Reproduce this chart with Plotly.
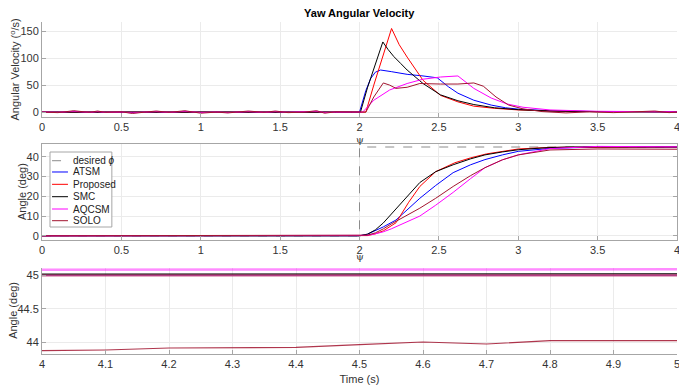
import plotly.graph_objects as go
from plotly.subplots import make_subplots

# ---------------- data ----------------
series_names = ["ATSM", "Proposed", "SMC", "AQCSM", "SOLO"]
series_colors = ["#0000FF", "#FF0000", "#000000", "#FF00FF", "#A2142F"]
legend_labels = ["desired <i>\u03d5</i>"] + series_names
legend_colors = ["#8c8c8c"] + series_colors

# Panel 1: yaw angular velocity (deg/s)
t_noise = [0, 0.1, 0.2, 0.3, 0.35, 0.4, 0.5, 0.57, 0.65, 0.72, 0.8, 0.9, 1.0,
           1.1, 1.17, 1.3, 1.4, 1.47, 1.55, 1.65, 1.73, 1.78, 1.85, 1.95]
noise_solo = [0, -1, 2.5, -0.5, 2, -0.5, 0.5, -2.5, 0, 2, -0.5, 2.5, -2,
              0, -1.5, 2, -0.5, 2, -1, 0, 2.5, -2, 0.5, 0]
noise_aqcsm = [0, -0.5, 1.5, -0.5, 1, -0.5, 0, -1.5, 0, 1, -0.5, 1.5, -1,
               0, -1, 1, -0.5, 1, -0.5, 0, 1.5, -1, 0, 0]
noise_flat = [0, 0, 0.5, 0, 0.5, 0, 0, -0.5, 0, 0.5, 0, 0.5, -0.5,
              0, -0.5, 0.5, 0, 0.5, 0, 0, 0.5, -0.5, 0, 0]

vel_t_atsm = [2.0, 2.04, 2.07, 2.1, 2.133, 2.2, 2.3, 2.4, 2.49, 2.56, 2.62, 2.72, 2.83, 2.92, 3.0, 3.2, 3.5, 4.0]
vel_atsm = [0, 40, 62, 74, 78, 75, 70, 67, 63.5, 47, 35, 22, 13, 8, 5.5, 2.5, 1, 0.3]

vel_t_prop = [2.0, 2.04, 2.09, 2.15, 2.202, 2.25, 2.3, 2.4, 2.51, 2.62, 2.72, 2.85, 3.0, 3.2, 3.5, 4.0]
vel_prop = [0, 0, 50, 105, 155, 125, 102, 59, 31, 19, 11, 7, 4, 2, 0.8, 0.3]

vel_t_smc = [2.0, 2.006, 2.05, 2.1, 2.147, 2.18, 2.216, 2.26, 2.3, 2.4, 2.51, 2.62, 2.72, 2.85, 3.0, 3.2, 3.5, 4.0]
vel_smc = [0, 0, 45, 90, 130, 116, 103, 90, 78, 53, 32, 21, 14, 8, 4.5, 2, 0.8, 0.3]

vel_t_aqcsm = [2.0, 2.02, 2.09, 2.19, 2.3, 2.4, 2.51, 2.62, 2.72, 2.83, 2.93, 3.03, 3.2, 3.5, 4.0]
vel_aqcsm = [0, 0, 22, 41, 53, 61, 65, 67, 44, 26, 15, 9, 4, 1.5, 0.5]

vel_t_solo = [2.0, 2.04, 2.09, 2.15, 2.19, 2.23, 2.3, 2.38, 2.51, 2.62, 2.72, 2.78, 2.86, 2.94, 3.03,
              3.15, 3.3, 3.45, 3.6, 3.75, 3.86, 3.95, 4.0]
vel_solo = [0, 0, 28, 54, 50, 44, 46, 53, 52, 52, 54, 48, 28, 13, 6,
            1, -1.5, 0.5, -1, 0.5, 2, -1, 0]

# Panel 2: yaw angle (deg)
ang_t_des = [0, 2.0, 2.0, 4.0]
ang_des = [0, 0, 45, 45]

ang_t_atsm = [0, 2.0, 2.05, 2.1, 2.15, 2.23, 2.3, 2.38, 2.48, 2.59, 2.7, 2.79, 2.9, 3.0, 3.2, 3.5, 4.0]
ang_atsm = [0, 0, 0.8, 2.5, 4.5, 8, 13, 19, 25.5, 32, 36, 38.6, 41, 42.8, 44.3, 45, 45.0]

ang_t_prop = [0, 2.0, 2.05, 2.1, 2.15, 2.23, 2.31, 2.38, 2.48, 2.6, 2.7, 2.8, 3.0, 3.2, 3.5, 4.0]
ang_prop = [0, 0, 0.1, 1, 2.5, 6.6, 17, 25, 32.5, 37, 39.5, 41.5, 44, 44.8, 45, 45.0]

ang_t_smc = [0, 2.0, 2.05, 2.1, 2.15, 2.2, 2.27, 2.38, 2.48, 2.59, 2.7, 2.79, 2.9, 3.0, 3.15, 3.3, 3.5, 4.0]
ang_smc = [0, 0, 0.8, 3, 6.5, 11, 17, 27, 32.5, 36, 39, 41, 42.5, 43.6, 44.5, 45.0, 45.1, 45.02]

ang_t_aqcsm = [0, 2.0, 2.05, 2.1, 2.15, 2.2, 2.3, 2.38, 2.48, 2.59, 2.7, 2.79, 2.9, 3.0, 3.2, 3.5, 4.0]
ang_aqcsm = [0, 0, 0.2, 1, 2, 3.5, 7, 10, 15.5, 22, 29, 34.5, 38.5, 41, 44.2, 45.3, 45.085]

ang_t_solo = [0, 2.0, 2.05, 2.1, 2.15, 2.2, 2.3, 2.38, 2.48, 2.59, 2.7, 2.79, 2.9, 3.0, 3.2, 3.5, 4.0]
ang_solo = [0, 0, 0.3, 1.5, 3.5, 6, 10.5, 14, 19, 25, 30.5, 34.5, 38.5, 41, 43.5, 44, 43.87]

# Panel 3: zoomed yaw angle (deg), t = 4..5 s
zoom_t = [4.0, 5.0]
zoom_atsm = [45.0, 45.0]
zoom_prop = [45.0, 45.0]
zoom_smc = [45.02, 45.025]
zoom_aqcsm = [45.085, 45.09]
zoom_t_solo = [4.0, 4.1, 4.2, 4.3, 4.4, 4.5, 4.6, 4.7, 4.8, 4.9, 5.0]
zoom_solo = [43.87, 43.88, 43.91, 43.91, 43.92, 43.96, 44.0, 43.97, 44.02, 44.02, 44.02]

x_ticks_12 = [0, 0.5, 1, 1.5, 2, 2.5, 3, 3.5, 4]
x_ticks_3 = [4, 4.1, 4.2, 4.3, 4.4, 4.5, 4.6, 4.7, 4.8, 4.9, 5]
y_ticks_1 = [0, 50, 100, 150]
y_ticks_2 = [0, 10, 20, 30, 40]
y_ticks_3 = [44, 44.5, 45]

# ---------------- figure ----------------
FONT = "Liberation Sans, Arial"
fig = make_subplots(rows=3, cols=1, shared_xaxes=False)

vel_data = [
    (t_noise + vel_t_atsm, noise_flat + vel_atsm),
    (t_noise + vel_t_prop, noise_flat + vel_prop),
    (t_noise + vel_t_smc, noise_flat + vel_smc),
    (t_noise + vel_t_aqcsm, noise_aqcsm + vel_aqcsm),
    (t_noise + vel_t_solo, noise_solo + vel_solo),
]
for (tx, vy), name, col in zip(vel_data, series_names, series_colors):
    fig.add_trace(go.Scatter(x=tx, y=vy, mode="lines", name=name,
                             line=dict(color=col, width=1)), row=1, col=1)

fig.add_trace(go.Scatter(x=ang_t_des, y=ang_des, mode="lines", name="desired \u03d5",
                         line=dict(color="#8c8c8c", width=1, dash="dash")), row=2, col=1)
ang_data = [(ang_t_atsm, ang_atsm), (ang_t_prop, ang_prop), (ang_t_smc, ang_smc),
            (ang_t_aqcsm, ang_aqcsm), (ang_t_solo, ang_solo)]
for (tx, vy), name, col in zip(ang_data, series_names, series_colors):
    fig.add_trace(go.Scatter(x=tx, y=vy, mode="lines", name=name,
                             line=dict(color=col, width=1)), row=2, col=1)

zoom_data = [(zoom_t, zoom_atsm, 0.5, 2), (zoom_t, zoom_prop, 0.45, 2.5), (zoom_t, zoom_smc, 0.9, 1),
             (zoom_t, zoom_aqcsm, 0.45, 2.5), (zoom_t_solo, zoom_solo, 0.85, 1.2)]
for (tx, vy, op, w), name, col in zip(zoom_data, series_names, series_colors):
    fig.add_trace(go.Scatter(x=tx, y=vy, mode="lines", name=name, opacity=op,
                             line=dict(color=col, width=w)), row=3, col=1)

axis_common = dict(showgrid=True, gridcolor="#ebebeb", gridwidth=1, zeroline=False,
                   showline=True, linecolor="#a6a6a6", linewidth=1, ticks="inside",
                   ticklen=4, tickcolor="#a6a6a6", automargin=False,
                   ticklabeloverflow="allow",
                   tickfont=dict(family=FONT, size=11, color="#333333"))
title_font = dict(family=FONT, size=11, color="#333333")

fig.update_layout(
    xaxis=dict(domain=[0, 1], range=[0, 4], tickvals=x_ticks_12, anchor="y", **axis_common),
    yaxis=dict(domain=[0.714, 1], range=[-9, 167], tickvals=y_ticks_1, anchor="x", **axis_common),
    xaxis2=dict(domain=[0, 1], range=[0, 4], tickvals=x_ticks_12, anchor="y2", mirror=True, **axis_common),
    yaxis2=dict(domain=[0.343, 0.633], range=[-2.2, 46.6], tickvals=y_ticks_2, anchor="x2", mirror="ticks",
                **axis_common),
    xaxis3=dict(domain=[0, 1], range=[4, 5], tickvals=x_ticks_3, anchor="y3",
                title=dict(text="Time (s)", font=title_font), **axis_common),
    yaxis3=dict(domain=[0, 0.259], range=[43.82, 45.11], tickvals=y_ticks_3, anchor="x3", **axis_common),
)

fig.update_layout(
    width=679, height=385,
    margin=dict(l=42, r=2, t=22, b=31),
    paper_bgcolor="white", plot_bgcolor="white",
    title=dict(text="<b>Yaw Angular Velocity</b>", x=0.529, xanchor="center", y=0.977, yanchor="top",
               font=dict(family=FONT, size=11, color="#000000")),
    showlegend=False,
)

# y-axis titles
for text, yc, xs in [("Angular Velocity (<sup>o</sup>/s)", 0.857, -27),
                     ("Angle (deg)", 0.488, -20),
                     ("Angle (deg)", 0.13, -29)]:
    fig.add_annotation(xref="paper", yref="paper", x=0, y=yc, xshift=xs, text=text,
                       textangle=-90, showarrow=False, xanchor="center", yanchor="middle",
                       font=title_font)

# legend drawn inside the angle panel (paper coordinates of the plotting area)
leg_x0, leg_x1, leg_y0, leg_y1 = 0.0126, 0.110, 0.3825, 0.6084
leg_rows = [0.5822, 0.5482, 0.5111, 0.4738, 0.4367, 0.4015]
fig.add_shape(type="rect", xref="paper", yref="paper", x0=leg_x0, x1=leg_x1, y0=leg_y0, y1=leg_y1,
              fillcolor="white", line=dict(color="#a6a6a6", width=1), layer="above")
for i, (lab, col) in enumerate(zip(legend_labels, legend_colors)):
    fig.add_shape(type="line", xref="paper", yref="paper", x0=0.0158, x1=0.0409,
                  y0=leg_rows[i], y1=leg_rows[i], layer="above",
                  line=dict(color=col, width=1, dash="dash" if i == 0 else "solid"))
    fig.add_annotation(xref="paper", yref="paper", x=0.0457, y=leg_rows[i], text=lab,
                       xanchor="left", yanchor="middle", showarrow=False,
                       font=dict(family=FONT, size=10, color="#222222"))

for yp in [0.657, 0.283]:
    fig.add_annotation(x=2, y=yp, xref="x", yref="paper", text="\u03c8", showarrow=False,
                       yshift=-4, font=dict(family="DejaVu Serif", size=10, color="#333333"))

fig.write_html("out.html", post_script="document.body.style.margin='0';",
               config={"displayModeBar": False})
